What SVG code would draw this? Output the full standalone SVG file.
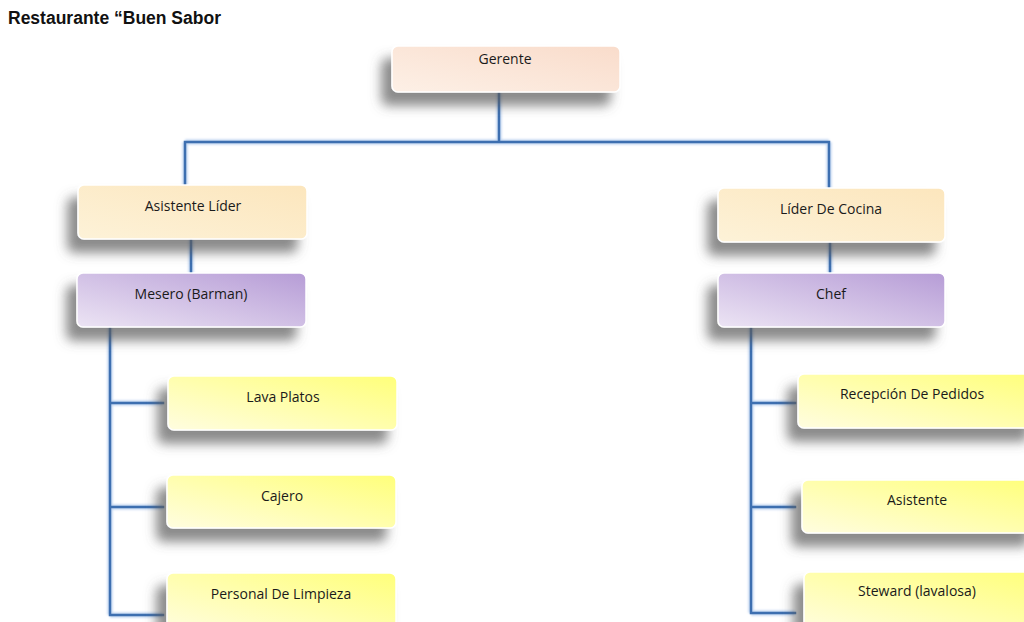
<svg xmlns="http://www.w3.org/2000/svg" width="1024" height="622" viewBox="0 0 1024 622">
<defs>
<filter id="sh" x="-20%" y="-40%" width="140%" height="220%">
<feDropShadow dx="-10" dy="13" stdDeviation="6" flood-color="#5a5a5a" flood-opacity="0.7"/>
</filter>
<filter id="glow" x="-10%" y="-10%" width="120%" height="120%">
<feGaussianBlur stdDeviation="1.2"/>
</filter>
<linearGradient id="gPeach" x1="0" y1="1" x2="1" y2="0">
<stop offset="0" stop-color="#fdf0e6"/><stop offset="1" stop-color="#f9dccb"/>
</linearGradient>
<linearGradient id="gCream" x1="0" y1="1" x2="1" y2="0">
<stop offset="0" stop-color="#fdf2d8"/><stop offset="1" stop-color="#fce6bd"/>
</linearGradient>
<linearGradient id="gLav" x1="0" y1="1" x2="1" y2="0">
<stop offset="0" stop-color="#ece4f4"/><stop offset="1" stop-color="#b69cd6"/>
</linearGradient>
<linearGradient id="gYel" x1="0" y1="1" x2="1" y2="0">
<stop offset="0" stop-color="#fffde0"/><stop offset="1" stop-color="#ffff7a"/>
</linearGradient>
</defs>
<style>
.box{stroke:#ffffff;stroke-width:1.5;filter:url(#sh)}
.lbl{font-family:"Open Sans","Noto Sans",sans-serif;font-size:14px;fill:#1a1a1a;text-anchor:middle}
.ln{stroke:#3d6fb0;stroke-width:2.5;fill:none;stroke-linecap:square}
.lg{stroke:#8fb4e6;stroke-width:5;fill:none;opacity:0.6;filter:url(#glow)}
.title{font-family:"Liberation Sans",Arial,sans-serif;font-size:17.5px;font-weight:bold;fill:#111}
</style>
<rect width="1024" height="622" fill="#ffffff"/>
<text class="title" x="8" y="24">Restaurante “Buen Sabor</text>

<g id="connectors">
<path class="lg" d="M499 92V142M185 142H829M185 142V186M829 142V189M191 239V273M830 242V273M110 327V615M110 403H163M110 507H163M110 615H163M751 327V613M751 403H795M751 507H795M751 613H795"/>
<path class="ln" d="M499 92V142M185 142H829M185 142V186M829 142V189M191 239V273M830 242V273M110 327V615M110 403H163M110 507H163M110 615H163M751 327V613M751 403H795M751 507H795M751 613H795"/>
</g>

<g id="gerente">
<rect class="box" x="392" y="46" width="228" height="46" rx="6" fill="url(#gPeach)"/>
<text class="lbl" x="505" y="64">Gerente</text>
</g>
<g id="asistente-lider">
<rect class="box" x="78" y="185" width="229" height="54" rx="6" fill="url(#gCream)"/>
<text class="lbl" x="193" y="211">Asistente Líder</text>
</g>
<g id="lider-cocina">
<rect class="box" x="718" y="188" width="227" height="54" rx="6" fill="url(#gCream)"/>
<text class="lbl" x="831" y="214">Líder De Cocina</text>
</g>
<g id="mesero">
<rect class="box" x="77" y="273" width="229" height="54" rx="6" fill="url(#gLav)"/>
<text class="lbl" x="191" y="299">Mesero (Barman)</text>
</g>
<g id="chef">
<rect class="box" x="718" y="273" width="227" height="54" rx="6" fill="url(#gLav)"/>
<text class="lbl" x="831" y="299">Chef</text>
</g>
<g id="lava-platos">
<rect class="box" x="168" y="376" width="229" height="54" rx="6" fill="url(#gYel)"/>
<text class="lbl" x="283" y="402">Lava Platos</text>
</g>
<g id="cajero">
<rect class="box" x="167" y="475" width="229" height="53" rx="6" fill="url(#gYel)"/>
<text class="lbl" x="282" y="501">Cajero</text>
</g>
<g id="personal-limpieza">
<rect class="box" x="167" y="573" width="229" height="60" rx="6" fill="url(#gYel)"/>
<text class="lbl" x="281" y="599">Personal De Limpieza</text>
</g>
<g id="recepcion-pedidos">
<rect class="box" x="798" y="374" width="240" height="54" rx="6" fill="url(#gYel)"/>
<text class="lbl" x="912" y="399">Recepción De Pedidos</text>
</g>
<g id="asistente">
<rect class="box" x="802" y="480" width="236" height="53" rx="6" fill="url(#gYel)"/>
<text class="lbl" x="917" y="505">Asistente</text>
</g>
<g id="steward">
<rect class="box" x="804" y="572" width="234" height="60" rx="6" fill="url(#gYel)"/>
<text class="lbl" x="917" y="596">Steward (lavalosa)</text>
</g>
</svg>
